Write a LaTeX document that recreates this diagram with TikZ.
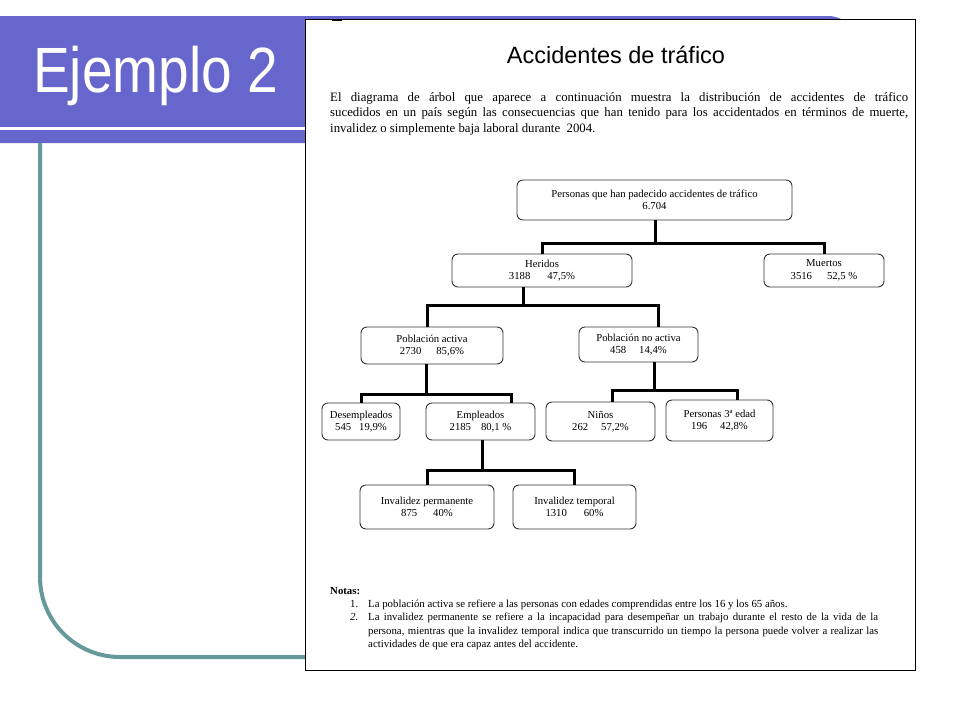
\documentclass[tikz,border=0pt]{standalone}
\usepackage{fontspec}
\setmainfont{Liberation Serif}
\newfontfamily\headfont{Liberation Sans}
\usetikzlibrary{positioning}
\definecolor{slideblue}{RGB}{102,102,204}
\definecolor{slideteal}{RGB}{102,153,153}

\begin{document}
\begin{tikzpicture}[x=1pt, y=-1pt,
            bx/.style={draw=black!80, fill=white, rounded corners=6pt, line width=0.9pt,
                       align=center, inner sep=1pt, font=\fontsize{10.7}{12.5}\selectfont},
            conn/.style={draw, line width=3pt, line join=miter},
            note/.style={anchor=base west, inner sep=0pt, font=\fontsize{10.8}{13.3}\selectfont}
        ]
        \useasboundingbox (0,0) rectangle (960,720);
        \fill[white] (0,0) rectangle (960,720);
        % slide background
        \fill[slideblue] (0,16) [rounded corners=30pt]-- (858,16) -- (858,143) [sharp corners]-- (0,143) -- cycle;
        \draw[white, line width=3pt] (0,128) -- (305,128);
        \draw[slideteal, line width=4pt, rounded corners=80pt] (40,143) -- (40,657) -- (305,657);
        \node[white, anchor=base west, inner sep=0pt, font=\headfont\fontsize{64}{70}\selectfont] (slide) at (33,92) {\scalebox{0.86}[1]{Ejemplo 2}};
        % page
        \draw[fill=white, line width=0.8pt] (305,19) rectangle (915,670);
        \draw[line width=1.5pt] (332,20.5) -- (342,20.5);
        \node[font=\headfont\fontsize{23.5}{27}\selectfont] (title) at (616,55) {Accidentes de tráfico};
        \node[anchor=north west, inner sep=0pt, text width=578pt, align=justify,
              font=\fontsize{12.8}{15.5}\selectfont] (intro) at (330,92)
            {El diagrama de árbol que aparece a continuación muestra la distribución de accidentes de tráfico\linebreak
             sucedidos en un país según las consecuencias que han tenido para los accidentados en términos de muerte,\linebreak
             invalidez o simplemente baja laboral durante\ \ 2004.};
        % tree
        \node[bx, minimum width=275pt, minimum height=40pt] (root)  at (654.5,200) {Personas que han padecido accidentes de tráfico\\6.704};
        \node[bx, minimum width=180pt, minimum height=33pt] (her)   at (542,270.5) {Heridos\\3188\hspace{17pt}47,5\%};
        \node[bx, minimum width=120pt, minimum height=33pt] (mue)   at (824,270.5) {Muertos\\3516\hspace{15pt}52,5 \%};
        \node[bx, minimum width=142pt, minimum height=37pt] (pact)  at (432,345.5) {Población activa\\2730\hspace{15pt}85,6\%};
        \node[bx, minimum width=119pt, minimum height=35pt] (pnact) at (638.5,344.5) {Población no activa\\458\hspace{13pt}14,4\%};
        \node[bx, minimum width=78pt,  minimum height=37pt] (des)   at (361,421.5) {Desempleados\\545\hspace{8pt}19,9\%};
        \node[bx, minimum width=109pt, minimum height=37pt] (emp)   at (480.5,421.5) {Empleados\\2185\hspace{10pt}80,1 \%};
        \node[bx, minimum width=109pt, minimum height=39pt] (nin)   at (600.5,421.5) {Niños\\262\hspace{13pt}57,2\%};
        \node[bx, minimum width=107pt, minimum height=41pt] (p3)    at (719.5,420.5) {Personas 3ª edad\\196\hspace{13pt}42,8\%};
        \node[bx, minimum width=134pt, minimum height=44pt] (ip)    at (427,507) {Invalidez permanente\\875\hspace{16pt}40\%};
        \node[bx, minimum width=123pt, minimum height=44pt] (it)    at (574.5,507) {Invalidez temporal\\1310\hspace{17pt}60\%};
        \coordinate (j0) at (655,243);
        \coordinate (j1) at (523,305);
        \coordinate (j2) at (426,394);
        \coordinate (j3) at (654,390);
        \coordinate (j4) at (482,470);
        \draw[conn] (root.south -| j0) -- (j0);
        \draw[conn] (her.north) |- (j0) -| (mue.north);
        \draw[conn] (her.south -| j1) -- (j1);
        \draw[conn] ([xshift=-5pt]pact.north) |- (j1) -| ([xshift=19.5pt]pnact.north);
        \draw[conn] (pact.south -| j2) -- (j2);
        \draw[conn] (des.north) |- (j2) -| ([xshift=30.5pt]emp.north);
        \draw[conn] (pnact.south -| j3) -- (j3);
        \draw[conn] ([xshift=11.5pt]nin.north) |- (j3) -| ([xshift=17.5pt]p3.north);
        \draw[conn] (emp.south -| j4) -- (j4);
        \draw[conn] (ip.north) |- (j4) -| (it.north);
        % notes
        \node[note, font=\bfseries\fontsize{10.8}{13.3}\selectfont] (notas) at (330,594) {Notas:};
        \node[note] (num1) at (350,607) {1.};
        \node[note] (txt1) at (368,607) {La población activa se refiere a las personas con edades comprendidas entre los 16 y los 65 años.};
        \node[note] (num2) at (350,620.5) {\textit{2.}};
        \node[anchor=north west, inner sep=0pt, text width=510pt, align=justify,
              font=\fontsize{10.8}{13.3}\selectfont] (txt2) at (368,613)
            {La invalidez permanente se refiere a la incapacidad para desempeñar un trabajo durante el resto de la vida de la\linebreak
             persona, mientras que la invalidez temporal indica que transcurrido un tiempo la persona puede volver a realizar las\linebreak
             actividades de que era capaz antes del accidente.};
    \end{tikzpicture}
\end{document}
